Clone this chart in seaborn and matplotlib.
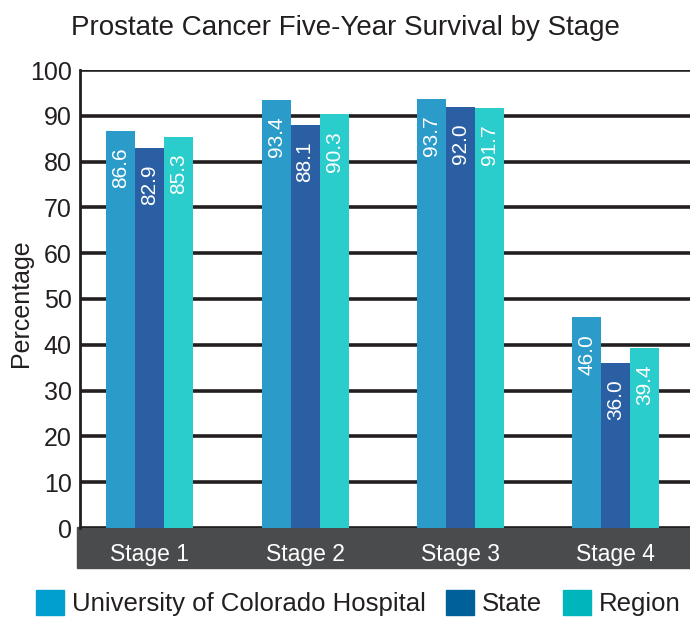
import pandas as pd
import seaborn as sns
import matplotlib.pyplot as plt
from matplotlib.patches import Rectangle, Patch

stages = ['Stage 1', 'Stage 2', 'Stage 3', 'Stage 4']
series = ['University of Colorado Hospital', 'State', 'Region']
hospital = [86.6, 93.4, 93.7, 46.0]
state = [82.9, 88.1, 92.0, 36.0]
region = [85.3, 90.3, 91.7, 39.4]

bar_colors = ['#2b9bca', '#2a5fa4', '#2bcccc']
legend_colors = ['#009fcf', '#00619a', '#00b5bc']

df = pd.DataFrame({
    'Stage': stages * 3,
    'Series': [s for s in series for _ in stages],
    'Value': hospital + state + region,
})

sns.set_style('white')
plt.rcParams['font.family'] = ['Liberation Sans', 'DejaVu Sans']

fig = plt.figure(figsize=(6.9, 6.17), dpi=100)
ax = fig.add_axes([0.116, 1 - 528 / 617, 0.884, 458 / 617])
ax.set_zorder(1)
ax.patch.set_alpha(0)

sns.barplot(data=df, x='Stage', y='Value', hue='Series', palette=bar_colors,
            width=0.56, saturation=1, linewidth=0, ax=ax, legend=False)

for cont in ax.containers:
    for bar in cont:
        h = bar.get_height()
        ax.text(bar.get_x() + bar.get_width() / 2, h - 3.6, f'{h:.1f}',
                rotation=90, ha='center', va='top', color='white', fontsize=15)

ax.set_ylim(0, 100)
ax.set_xlim(-0.45, 3.48)
ax.set_yticks(range(0, 101, 10))
ax.yaxis.grid(True, color='#231f20', linewidth=2.6)
ax.set_axisbelow(True)
for side in ['top', 'right', 'bottom']:
    ax.spines[side].set_visible(False)
ax.spines['left'].set_color('#231f20')
ax.spines['left'].set_linewidth(2)
ax.tick_params(axis='y', length=0, labelsize=18, pad=6, labelcolor='#231f20')
ax.tick_params(axis='x', length=0, labelsize=16.5, pad=11, labelcolor='white')
ax.set_xlabel('')
ax.set_ylabel('Percentage', fontsize=18, color='#231f20')
ax.yaxis.set_label_coords(-0.077, 0.49)

# dark band behind the stage labels
fig.patches.append(Rectangle((77 / 690, 1 - 568 / 617), 1 - 77 / 690, 41 / 617,
                             transform=fig.transFigure, color='#4a4b4d', zorder=0))

fig.text(0.5, 1 - 28 / 617, 'Prostate Cancer Five-Year Survival by Stage',
         ha='center', va='center', fontsize=20, color='#231f20')

handles = [Patch(color=c) for c in legend_colors]
fig.legend(handles, series, loc='center', bbox_to_anchor=(0.519, 1 - 603 / 617),
           ncol=3, frameon=False, fontsize=18.5, handlelength=1.1, handleheight=1.1,
           handletextpad=0.3, columnspacing=0.8, labelcolor='#231f20',
           borderaxespad=0, borderpad=0)

fig.savefig('out.png', dpi=100)
